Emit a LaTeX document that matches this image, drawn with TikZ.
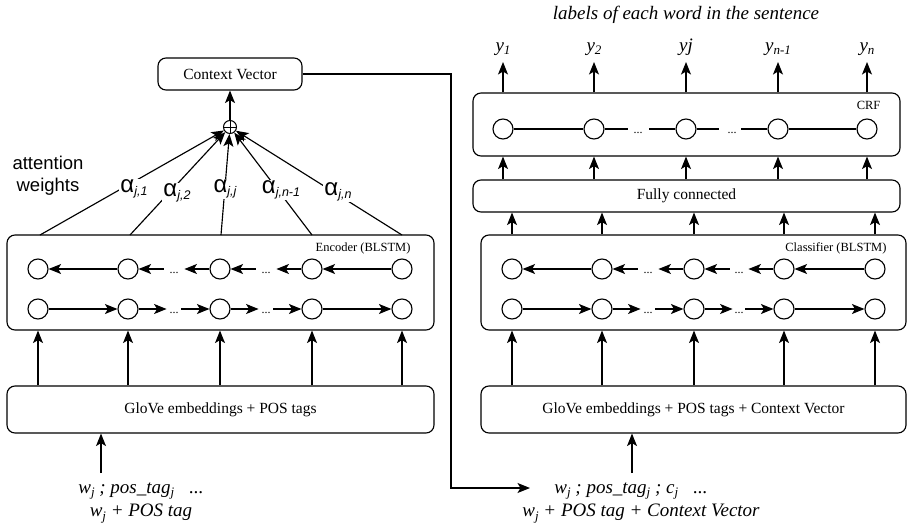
\documentclass[tikz,border=0pt]{standalone}
\usepackage{fontspec}
\setmainfont{Liberation Serif}
\setsansfont{Liberation Sans}
\usetikzlibrary{arrows.meta,calc}
\newcommand\alphalab[1]{α\raisebox{-0.25ex}{\fontsize{12.5}{14}\selectfont\itshape #1}}
\newcommand\wsub[1]{\raisebox{-0.45ex}{\fontsize{13}{14}\selectfont #1}}
\begin{document}
\begin{tikzpicture}[x=1pt,y=-1pt,
  line width=1.15pt,
  arr/.style={-{Stealth[length=12.5pt,width=10pt,inset=3pt]}},
  box/.style={draw,rounded corners=8pt,inner sep=0pt,font=\fontsize{15.5}{18}\selectfont},
  cell/.style={draw,circle,minimum size=20pt,inner sep=0pt,fill=white},
  small/.style={font=\fontsize{12.5}{14}\selectfont,inner sep=0pt},
  dots/.style={font=\fontsize{12}{14}\selectfont,inner sep=0pt},
  ital/.style={font=\fontsize{19}{22}\selectfont\itshape,inner sep=0pt},
  alab/.style={fill=white,inner sep=1pt,font=\fontsize{24}{26}\selectfont\sffamily},
]
\useasboundingbox (0,0) rectangle (907,530);

% ---------------- left: encoder ----------------
\node[box,minimum width=144pt,minimum height=32pt] (ctx) at (230,74) {Context Vector};
\node[circle,draw,minimum size=13pt,inner sep=0pt,fill=white,line width=1pt] (plus) at (230,127) {};
\draw[line width=1pt] (plus.north) -- (plus.south) (plus.west) -- (plus.east);
\draw[arr] (plus) -- (ctx);

\node[box,minimum width=427pt,minimum height=95pt] (enc) at (220.5,282.5) {};
\node[small,anchor=east] (enclab) at (411,248) {Encoder (BLSTM)};
\node[box,minimum width=427pt,minimum height=47pt] (g1) at (220.5,409.5) {GloVe embeddings + POS tags};

\foreach \i/\x in {1/38,2/128,3/220,4/312,5/402}{
  \node[cell] (T\i) at (\x,269) {};
  \node[cell] (B\i) at (\x,309) {};
}
% top row (backward)
\draw[arr] (T2) -- (T1);
\coordinate (ta1) at ($(T2.east)+(25,0)$);
\coordinate (ta2) at ($(T3.west)+(-25,0)$);
\coordinate (ta3) at ($(T3.east)+(25,0)$);
\coordinate (ta4) at ($(T4.west)+(-25,0)$);
\draw[arr] (ta1) -- (T2);
\draw[arr] (T3) -- (ta2);
\draw[arr] (ta3) -- (T3);
\draw[arr] (T4) -- (ta4);
\draw[arr] (T5) -- (T4);
\node[dots] (td1) at (174,273) {...};
\node[dots] (td2) at (266,273) {...};
% bottom row (forward)
\draw[arr] (B1) -- (B2);
\coordinate (ba1) at ($(B2.east)+(28,0)$);
\coordinate (ba2) at ($(B3.west)+(-28,0)$);
\coordinate (ba3) at ($(B3.east)+(28,0)$);
\coordinate (ba4) at ($(B4.west)+(-28,0)$);
\draw[arr] (B2) -- (ba1);
\draw[arr] (ba2) -- (B3);
\draw[arr] (B3) -- (ba3);
\draw[arr] (ba4) -- (B4);
\draw[arr] (B4) -- (B5);
\node[dots] (bd1) at (174,313) {...};
\node[dots] (bd2) at (266,313) {...};

\foreach \i in {1,...,5}{
  \draw[arr] (B\i |- g1.north) -- (B\i |- enc.south);
}
% attention lines
\coordinate (e1) at (40,235);
\coordinate (e2) at (130,235);
\coordinate (e3) at (221,235);
\coordinate (e4) at (312,235);
\coordinate (e5) at (402,235);
\foreach \i in {1,...,5}{
  \draw[arr] (e\i) -- (plus);
}
\node[alab] (a1) at (134,189) {\alphalab{j,1}};
\node[alab] (a2) at (177,193) {\alphalab{j,2}};
\node[alab] (a3) at (225,189) {\alphalab{j,j}};
\node[alab] (a4) at (281,190) {\alphalab{j,n-1}};
\node[alab] (a5) at (338,192) {\alphalab{j,n}};
\node[font=\fontsize{18.5}{22}\selectfont\sffamily,align=center,inner sep=0pt] (att) at (48,176) {attention\\weights};

% input left
\coordinate (in1) at (101,473);
\draw[arr] (in1) -- (in1 |- g1.south);
\node[ital] (w1) at (141,491) {w\wsub{j} ; pos\_tag\wsub{j}\hspace{0.8em}...};
\node[ital] (w2) at (141,514) {w\wsub{j} + POS tag};

% context vector connector
\coordinate (cin) at (530,488);
\draw[arr] (ctx.east) -| ($(cin)+(-79,0)$) -- (cin);

% ---------------- right: classifier ----------------
\node[ital] (title) at (686,15) {labels of each word in the sentence};

\node[box,minimum width=427pt,minimum height=63pt] (crf) at (686.5,124.5) {};
\node[small,anchor=east] (crflab) at (881,105) {CRF};
\node[box,minimum width=427pt,minimum height=32pt] (fc) at (686.5,196) {Fully connected};
\node[box,minimum width=425pt,minimum height=95pt] (cls) at (693.5,282.5) {};
\node[small,anchor=east] (clslab) at (887,248) {Classifier (BLSTM)};
\node[box,minimum width=425pt,minimum height=47pt] (g2) at (693.5,409.5) {GloVe embeddings + POS tags + Context Vector};

\foreach \i/\x in {1/503,2/594,3/686,4/778,5/867}{
  \node[cell] (C\i) at (\x,129) {};
  \coordinate (yt\i) at (\x,62);
  \draw[arr] (C\i |- crf.north) -- (yt\i);
  \draw[arr] (C\i |- fc.north) -- (C\i |- crf.south);
}
\node[ital,anchor=base] (y1) at (503,51) {y\wsub{\itshape 1}};
\node[ital,anchor=base] (y2) at (594,51) {y\wsub{\itshape 2}};
\node[ital,anchor=base] (y3) at (686,51) {yj};
\node[ital,anchor=base] (y4) at (778,51) {y\wsub{\itshape n-1}};
\node[ital,anchor=base] (y5) at (867,51) {y\wsub{\itshape n}};

\draw (C1) -- (C2);
\coordinate (cl1) at ($(C2.east)+(23,0)$);
\coordinate (cl2) at ($(C3.west)+(-26,0)$);
\coordinate (cl3) at ($(C3.east)+(22,0)$);
\coordinate (cl4) at ($(C4.west)+(-26,0)$);
\draw (C2) -- (cl1);
\draw (cl2) -- (C3);
\draw (C3) -- (cl3);
\draw (cl4) -- (C4);
\draw (C4) -- (C5);
\node[dots] (cd1) at (638,133) {...};
\node[dots] (cd2) at (732,133) {...};

\foreach \i/\x in {1/512,2/602,3/694,4/784,5/875}{
  \node[cell] (R\i) at (\x,269) {};
  \node[cell] (S\i) at (\x,309) {};
}
\draw[arr] (R2) -- (R1);
\coordinate (ra1) at ($(R2.east)+(25,0)$);
\coordinate (ra2) at ($(R3.west)+(-25,0)$);
\coordinate (ra3) at ($(R3.east)+(25,0)$);
\coordinate (ra4) at ($(R4.west)+(-25,0)$);
\draw[arr] (ra1) -- (R2);
\draw[arr] (R3) -- (ra2);
\draw[arr] (ra3) -- (R3);
\draw[arr] (R4) -- (ra4);
\draw[arr] (R5) -- (R4);
\node[dots] (rd1) at (648,273) {...};
\node[dots] (rd2) at (739,273) {...};
\draw[arr] (S1) -- (S2);
\coordinate (sa1) at ($(S2.east)+(28,0)$);
\coordinate (sa2) at ($(S3.west)+(-28,0)$);
\coordinate (sa3) at ($(S3.east)+(28,0)$);
\coordinate (sa4) at ($(S4.west)+(-28,0)$);
\draw[arr] (S2) -- (sa1);
\draw[arr] (sa2) -- (S3);
\draw[arr] (S3) -- (sa3);
\draw[arr] (sa4) -- (S4);
\draw[arr] (S4) -- (S5);
\node[dots] (sd1) at (648,313) {...};
\node[dots] (sd2) at (739,313) {...};

\foreach \i in {1,...,5}{
  \draw[arr] (S\i |- g2.north) -- (S\i |- cls.south);
  \draw[arr] (R\i |- cls.north) -- (R\i |- fc.south);
}

% input right
\coordinate (in2) at (632,473);
\draw[arr] (in2) -- (in2 |- g2.south);
\node[ital] (v1) at (631,491) {w\wsub{j} ; pos\_tag\wsub{j} ; c\wsub{j}\hspace{0.8em}...};
\node[ital] (v2) at (641,514) {w\wsub{j} + POS tag + Context Vector};
\end{tikzpicture}
\end{document}
